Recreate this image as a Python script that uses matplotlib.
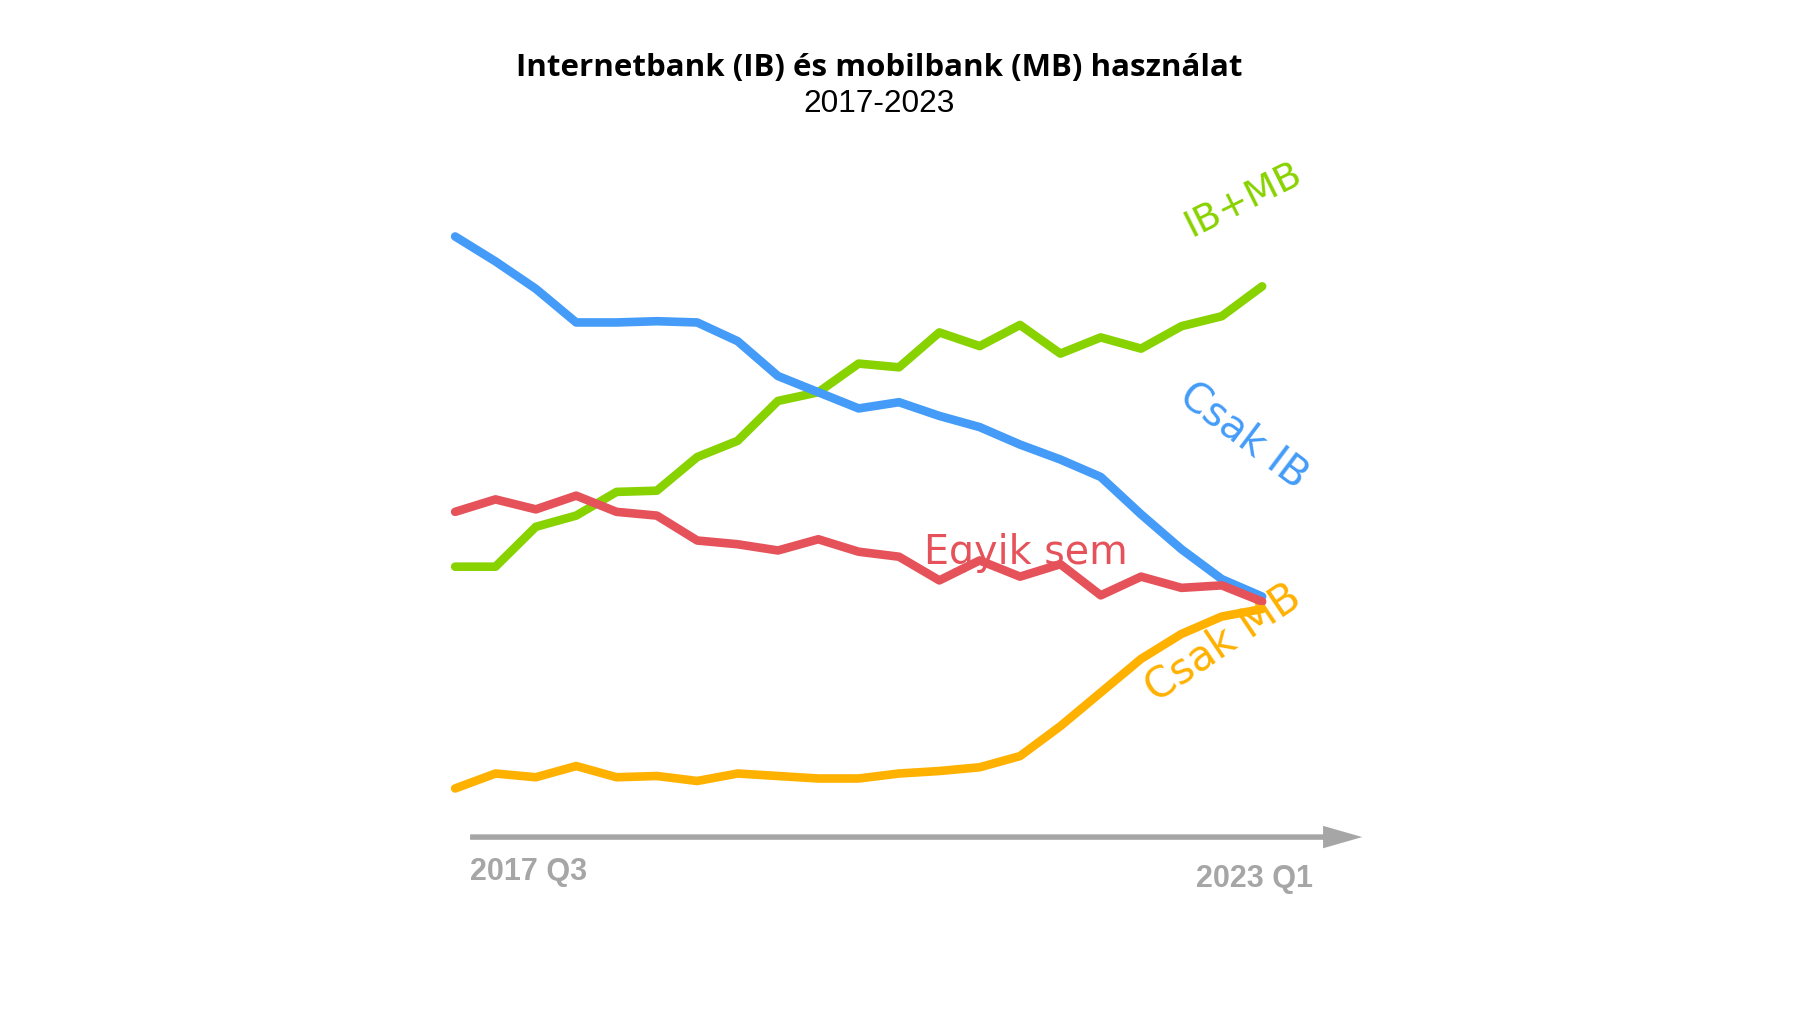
import matplotlib
matplotlib.use("Agg")
import matplotlib.pyplot as plt
from matplotlib import font_manager

# Share of users (%), 2017 Q3 .. 2023 Q1
csak_ib = [48.2, 46.2, 44.0, 41.3, 41.3, 41.4, 41.3, 39.8, 37.0, 35.7, 34.4,
           34.9, 33.8, 32.9, 31.5, 30.3, 28.9, 25.9, 23.1, 20.7, 19.3]
ib_mb = [21.7, 21.7, 24.9, 25.8, 27.7, 27.8, 30.5, 31.8, 35.0, 35.7, 38.0,
         37.7, 40.5, 39.4, 41.1, 38.8, 40.1, 39.2, 41.0, 41.8, 44.2]
egyik_sem = [26.1, 27.1, 26.3, 27.4, 26.1, 25.8, 23.8, 23.5, 23.0, 23.9, 22.9,
             22.5, 20.6, 22.2, 20.9, 21.9, 19.4, 20.9, 20.0, 20.2, 18.9]
csak_mb = [3.9, 5.1, 4.8, 5.7, 4.8, 4.9, 4.5, 5.1, 4.9, 4.7, 4.7,
           5.1, 5.3, 5.6, 6.5, 8.9, 11.6, 14.3, 16.3, 17.7, 18.3]
periods = list(range(len(csak_ib)))
end_labels = ["2017 Q3", "2023 Q1"]

BLUE = "#449cf8"
GREEN = "#88d200"
RED = "#e5525a"
ORANGE = "#ffb100"
GRAY = "#a6a6a6"

installed = {f.name for f in font_manager.fontManager.ttflist}
narrow = "Liberation Sans Narrow" if "Liberation Sans Narrow" in installed else "Liberation Sans"
label_size = 25 if narrow == "Liberation Sans Narrow" else 22
hand = "DejaVu Sans"

fig = plt.figure(figsize=(18, 10.12), dpi=100)
ax = fig.add_axes([0, 0, 1, 1])
ax.set_xlim(-11.28, 33.33)
ax.set_ylim(-13.96, 67.26)
ax.axis("off")

line_kw = dict(lw=6.2, solid_capstyle="round", solid_joinstyle="round")
ax.plot(periods, ib_mb, color=GREEN, zorder=2, **line_kw)
ax.plot(periods, csak_ib, color=BLUE, zorder=3, **line_kw)
ax.plot(periods, egyik_sem, color=RED, zorder=4, **line_kw)
ax.plot(periods, csak_mb, color=ORANGE, zorder=5, **line_kw)

# time arrow
ax.arrow(0.37, 0, 22.11, 0, width=0.44, head_width=1.8, head_length=0.97,
         length_includes_head=True, color=GRAY, lw=0)
ax.text(0.37, -2.75, end_labels[0], color=GRAY, fontsize=label_size, fontweight="bold",
        family=narrow, ha="left", va="center")
ax.text(21.27, -3.3, end_labels[1], color=GRAY, fontsize=label_size, fontweight="bold",
        family=narrow, ha="right", va="center")

# series labels
ax.text(19.53, 51.2, "IB+MB", color=GREEN, fontsize=27, family=hand,
        rotation=26.5, ha="center", va="center", rotation_mode="anchor")
ax.text(19.53, 32.3, "Csak IB", color=BLUE, fontsize=29, family=hand,
        rotation=-37, ha="center", va="center", rotation_mode="anchor")
ax.text(14.15, 22.9, "Egyik sem", color=RED, fontsize=28.5, family=hand,
        ha="center", va="center")
ax.text(19.03, 15.7, "Csak MB", color=ORANGE, fontsize=30, family=hand,
        rotation=34, ha="center", va="center", rotation_mode="anchor")

fig.text(879 / 1800, 1 - 68 / 1012, "Internetbank (IB) és mobilbank (MB) használat",
         family="Open Sans", fontweight="bold", fontsize=22.5, ha="center", va="center")
fig.text(879 / 1800, 1 - 104 / 1012, "2017-2023", family="Liberation Sans",
         fontsize=22.8, ha="center", va="center")

fig.savefig("out.png", dpi=100, facecolor="white")
